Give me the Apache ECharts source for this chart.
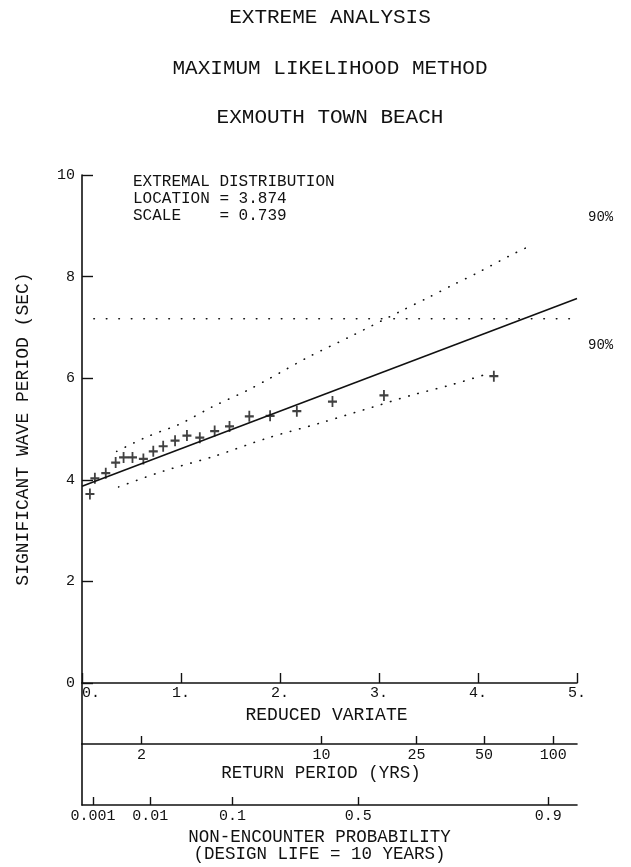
<!DOCTYPE html>
<html>
<head>
<meta charset="utf-8">
<title>Extreme analysis</title>
<script src="https://cdn.jsdelivr.net/npm/echarts@6/dist/echarts.min.js"></script>
<style>
    html, body { margin: 0; padding: 0; background: #fff; }
    #chart { width: 631px; height: 867px; }
</style>
</head>
<body>
<div id="chart"></div>
<script>
// observed maxima, plotted against reduced variate
const obsX = [0.08, 0.13, 0.24, 0.34, 0.42, 0.51, 0.62, 0.72, 0.82, 0.94, 1.06, 1.19, 1.34, 1.49, 1.69, 1.90, 2.17, 2.53, 3.05, 4.16];
const obsY = [3.72, 4.03, 4.13, 4.34, 4.44, 4.44, 4.41, 4.56, 4.66, 4.77, 4.87, 4.83, 4.96, 5.05, 5.25, 5.26, 5.35, 5.54, 5.66, 6.04];

// fitted extremal distribution
const fitX = [0, 5];
const fitY = [3.874, 7.569];

// 90% confidence limits
const upperX = [0.35, 0.66, 0.99, 1.33, 1.67, 1.90, 2.29, 2.71, 3.22, 3.49, 3.75, 3.99, 4.33, 4.50];
const upperY = [4.56, 4.85, 5.10, 5.45, 5.76, 6.00, 6.42, 6.82, 7.32, 7.58, 7.84, 8.07, 8.42, 8.58];
const lowerX = [0.37, 0.82, 1.33, 1.87, 2.41, 2.95, 3.32, 3.73, 4.07];
const lowerY = [3.86, 4.17, 4.46, 4.82, 5.12, 5.44, 5.66, 5.87, 6.07];

// horizontal dotted level
const levelX = [0.12, 5.1];
const levelY = [7.17, 7.17];

// secondary scales, placed on the reduced variate
const returnLabels = ['2', '10', '25', '50', '100'];
const returnPos = [0.60, 2.42, 3.38, 4.06, 4.76];
const probLabels = ['0.001', '0.01', '0.1', '0.5', '0.9'];
const probPos = [0.11, 0.69, 1.52, 2.79, 4.71];

const font = 'Liberation Mono';
const ink = '#111';

function pair(xs, ys) {
    return xs.map((x, i) => [x, ys[i]]);
}
function lookup(pos, labels) {
    return v => {
        let best = 0;
        pos.forEach((p, i) => { if (Math.abs(p - v) < Math.abs(pos[best] - v)) best = i; });
        return labels[best];
    };
}

const chart = echarts.init(document.getElementById('chart'));

const plus = 'path://M4 0H6V4H10V6H6V10H4V6H0V4H4Z';
const dotted = { color: ink, width: 1.6, type: [0.5, 9], cap: 'round' };

const option = {
    animation: false,
    backgroundColor: '#fff',
    title: [
        { text: 'EXTREME ANALYSIS', top: 7 },
        { text: 'MAXIMUM LIKELIHOOD METHOD', top: 58 },
        { text: 'EXMOUTH TOWN BEACH', top: 107 }
    ].map(t => ({
        text: t.text,
        left: 330,
        top: t.top,
        textAlign: 'center',
        padding: 0,
        textStyle: { fontFamily: font, fontSize: 21, fontWeight: 'normal', color: ink }
    })),
    grid: [
        { left: 82, right: 54, top: 175, height: 508 },
        { left: 82, right: 54, top: 683, height: 61 },
        { left: 82, right: 54, top: 744, height: 61 }
    ],
    xAxis: [
        {
            gridIndex: 0, type: 'value', min: 0, max: 5, interval: 1,
            name: 'REDUCED VARIATE', nameLocation: 'middle', nameGap: 21,
            nameTextStyle: { fontFamily: font, fontSize: 18, color: ink, padding: [0, 6, 0, 0] },
            axisLine: { lineStyle: { color: ink, width: 1.6 } },
            axisTick: { inside: true, length: 10, lineStyle: { color: ink, width: 1.4 } },
            axisLabel: {
                margin: 3, fontFamily: font, fontSize: 15, color: ink,
                alignMinLabel: 'left', formatter: v => v + '.'
            },
            splitLine: { show: false }
        },
        {
            gridIndex: 1, type: 'value', min: 0, max: 5,
            name: 'RETURN PERIOD (YRS)', nameLocation: 'middle', nameGap: 14,
            nameTextStyle: { fontFamily: font, fontSize: 17.5, color: ink, padding: [0, 17, 0, 0] },
            axisLine: { lineStyle: { color: ink, width: 1.6 } },
            axisTick: { inside: true, length: 8, customValues: returnPos, lineStyle: { color: ink, width: 1.4 } },
            axisLabel: {
                margin: 4, fontFamily: font, fontSize: 15, color: ink,
                customValues: returnPos, formatter: lookup(returnPos, returnLabels)
            },
            splitLine: { show: false }
        },
        {
            gridIndex: 2, type: 'value', min: 0, max: 5,
            name: 'NON-ENCOUNTER PROBABILITY\n(DESIGN LIFE = 10 YEARS)',
            nameLocation: 'middle', nameGap: 24,
            nameTextStyle: { fontFamily: font, fontSize: 17.5, lineHeight: 17, color: ink, padding: [0, 20, 0, 0] },
            axisLine: { lineStyle: { color: ink, width: 1.6 } },
            axisTick: { inside: true, length: 8, customValues: probPos, lineStyle: { color: ink, width: 1.4 } },
            axisLabel: {
                margin: 4, fontFamily: font, fontSize: 15, color: ink,
                customValues: probPos, formatter: lookup(probPos, probLabels)
            },
            splitLine: { show: false }
        }
    ],
    yAxis: [
        {
            gridIndex: 0, type: 'value', min: 0, max: 10, interval: 2,
            name: 'SIGNIFICANT WAVE PERIOD (SEC)', nameLocation: 'middle', nameGap: 50,
            nameTextStyle: { fontFamily: font, fontSize: 18, color: ink },
            axisLine: { show: true, lineStyle: { color: ink, width: 1.6 } },
            axisTick: { show: true, inside: true, length: 11, lineStyle: { color: ink, width: 1.4 } },
            axisLabel: { margin: 7, fontFamily: font, fontSize: 15, color: ink },
            splitLine: { show: false }
        },
        {
            gridIndex: 1, type: 'value', min: 0, max: 1,
            axisLine: { show: true, lineStyle: { color: ink, width: 1.6 } },
            axisTick: { show: false }, axisLabel: { show: false }, splitLine: { show: false }
        },
        {
            gridIndex: 2, type: 'value', min: 0, max: 1,
            axisLine: { show: true, lineStyle: { color: ink, width: 1.6 } },
            axisTick: { show: false }, axisLabel: { show: false }, splitLine: { show: false }
        }
    ],
    graphic: [
        {
            type: 'text', left: 133, top: 173,
            style: {
                text: 'EXTREMAL DISTRIBUTION\nLOCATION = 3.874\nSCALE    = 0.739',
                font: '16px "Liberation Mono"', lineHeight: 17, fill: ink
            }
        },
        { type: 'text', left: 588, top: 210, style: { text: '90%', font: '14px "Liberation Mono"', fill: ink } },
        { type: 'text', left: 588, top: 338, style: { text: '90%', font: '14px "Liberation Mono"', fill: ink } }
    ],
    series: [
        {
            name: 'level', type: 'line', clip: false, showSymbol: false,
            data: pair(levelX, levelY),
            lineStyle: { color: ink, width: 1.6, type: [0.5, 12], cap: 'round' }
        },
        {
            name: 'upper', type: 'line', showSymbol: false, smooth: 0.3,
            data: pair(upperX, upperY), lineStyle: dotted
        },
        {
            name: 'lower', type: 'line', showSymbol: false, smooth: 0.3,
            data: pair(lowerX, lowerY), lineStyle: dotted
        },
        {
            name: 'fit', type: 'line', showSymbol: false,
            data: pair(fitX, fitY), lineStyle: { color: ink, width: 1.6 }
        },
        {
            name: 'observed', type: 'scatter', symbol: plus, symbolSize: [9, 11],
            data: pair(obsX, obsY), itemStyle: { color: ink }
        }
    ]
};

chart.setOption(option);
</script>
</body>
</html>
